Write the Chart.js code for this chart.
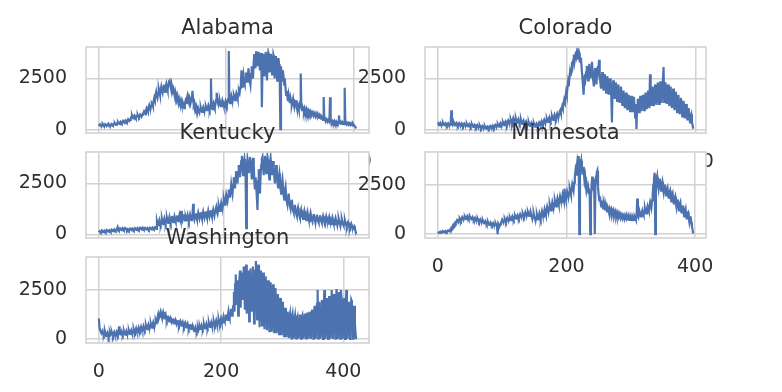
<!DOCTYPE html>
<html>
<head>
<meta charset="utf-8">
<script src="https://cdn.jsdelivr.net/npm/chart.js@4.4.1/dist/chart.umd.min.js"></script>
<style>
html,body{margin:0;padding:0;background:#ffffff;width:782px;height:392px;overflow:hidden;position:relative}
canvas{position:absolute;left:0;top:0}
</style>
</head>
<body>
<script>
// ---------- DATA ----------
const stateNames = ["Alabama", "Colorado", "Kentucky", "Minnesota", "Washington"];
const xTickValues = [0, 200, 400];
const yTickValues = [0, 2500];

const alabama = [
180,240,260,210,170,230,290,250,200,220,
270,230,180,210,260,300,240,190,210,250,
290,260,220,240,300,320,260,230,270,330,
360,300,280,340,400,370,320,360,430,390,
350,400,460,430,380,420,510,470,430,480,
560,620,690,600,550,640,700,650,580,620,
690,720,640,600,660,740,700,640,720,790,
820,900,850,760,950,1050,980,900,1100,1200,
1080,1000,1150,1300,1250,1150,1400,1550,1450,1700,
1850,1650,1550,1800,2000,1850,1700,1950,2100,1900,
1800,2050,2200,2000,1850,2100,2250,2100,1950,2200,
2350,2400,2200,2050,2250,2100,1900,2000,1800,1650,
1850,1700,1500,1650,1450,1300,1500,1350,1200,1400,
1250,1100,1300,1200,1050,1250,1400,1300,1500,1650,
1450,1350,1600,1500,1300,1450,1550,1900,1400,1250,
1350,1200,1050,1150,1000,900,1050,950,850,980,
1080,950,870,1000,1100,980,900,1020,1150,1050,
950,1080,1200,1100,1000,1150,2500,1100,1000,1200,
1300,1150,1050,1250,1450,1800,1500,1300,1200,1350,
1400,1250,1150,1300,1450,1350,1200,1100,1250,1400,
1300,1200,1350,1500,3850,1400,1300,1500,1650,1500,
1400,1550,1700,1600,1450,1650,1800,1700,1550,1750,
1900,1800,2050,2300,2900,2100,2400,2650,2300,2200,
2500,2800,2550,2350,2700,3000,2600,2400,2200,2700,
3100,2800,2500,3200,3700,3300,3000,3830,3400,3100,
3600,3800,3300,2900,3500,3750,1100,3200,3700,3400,
2600,3100,3800,3500,2400,3300,3750,3600,2800,3200,
3700,3400,2700,3100,3650,3500,2500,3000,3600,3300,
2400,2900,3500,3200,2600,30,3100,2700,2400,2900,
2600,2200,2500,2100,1700,1900,1600,1400,1700,1500,
1300,1550,1400,1200,1350,1500,1250,1100,1300,1450,
1200,1050,1250,1150,1000,1200,1100,2750,1050,950,
1100,1000,900,1050,950,850,1000,900,800,950,
880,780,900,820,720,850,780,700,820,750,
660,780,700,620,720,650,580,680,620,540,
620,560,480,1600,560,500,420,520,460,400,
480,430,380,1580,450,400,350,430,380,330,
420,360,310,400,350,300,380,700,340,290,
370,330,280,360,320,270,2050,340,300,260,
340,300,250,330,290,240,310,270,220,300,
250,200,180,120,60
];

const colorado = [
250,300,220,270,330,260,210,280,340,270,
220,290,320,250,200,270,310,240,190,260,
300,940,280,220,300,350,270,210,290,330,
260,200,280,320,250,190,270,310,240,180,
260,300,230,170,250,290,220,160,240,280,
210,150,230,270,200,140,220,250,180,120,
200,230,160,100,180,210,140,80,160,190,
120,60,140,170,100,50,130,160,110,60,
140,180,120,70,160,200,140,90,180,230,
170,120,220,270,200,150,260,320,240,180,
300,360,280,220,340,400,320,250,380,450,
360,290,420,500,400,320,460,560,440,350,
480,540,420,340,460,520,400,310,420,480,
360,280,380,440,320,240,340,400,290,210,
300,360,250,180,270,330,230,160,250,310,
220,150,240,300,220,170,280,350,270,220,
340,420,330,270,400,480,380,320,450,540,
440,380,510,600,500,430,560,660,550,480,
620,720,600,530,680,780,660,600,760,880,
950,820,1000,1150,1050,1250,1450,1350,1600,1850,
1700,2000,2300,2100,2500,2800,2600,2950,3300,3100,
3400,3650,3300,3500,3800,3600,3830,3700,3400,3750,
3600,3300,3500,3000,2600,2200,1700,2300,2700,2500,
2800,3100,2700,2400,2900,3200,2800,2500,3000,3300,
2800,2400,2100,2700,3000,2600,2200,2800,3100,2900,
3400,2700,2300,2000,2500,2800,2300,1900,2400,2700,
2200,1800,2300,2600,2100,1700,2200,2500,2000,1600,
350,2100,2400,1900,1500,2000,2300,1800,1400,1900,
2200,1700,1300,1800,2100,1600,1200,1600,1900,1400,
1050,1500,1800,1300,950,1400,1700,1250,900,1350,
1650,1200,850,1300,1600,1150,600,1250,30,1100,
1500,1200,850,1350,1650,1250,900,1400,1700,1300,
950,1450,1800,1350,1000,1500,1900,1400,1050,2700,
1600,1200,1700,2100,1500,1150,1750,2200,1600,1200,
1800,2300,1700,1250,1850,2350,1700,1300,1900,2400,
3050,1350,1900,2300,1650,1250,1800,2200,1550,1150,
1700,2100,1450,1050,1600,2000,1350,950,1450,1850,
1250,850,1350,1700,1150,750,1250,1550,1050,650,
1100,1400,900,550,1000,1250,800,450,850,1050,
650,350,650,750,400,200,50
];

const kentucky = [
100,150,130,90,120,180,160,110,140,190,
170,120,150,200,180,130,160,210,190,140,
170,220,200,150,180,240,210,170,200,280,
360,250,200,230,290,260,210,240,300,270,
220,250,310,280,230,200,260,240,190,230,
280,250,200,240,290,260,210,250,300,270,
220,260,310,280,230,270,320,290,240,280,
330,300,250,280,320,290,240,270,310,280,
230,270,320,290,250,280,330,300,260,290,
340,310,270,650,520,450,600,700,550,480,
620,750,600,500,650,780,640,540,680,800,
660,560,700,850,700,580,720,900,740,600,
750,880,720,620,780,920,760,640,800,950,
780,660,1150,820,700,850,980,800,680,830,
700,820,950,780,660,810,960,800,690,850,
1000,1500,850,720,880,1020,860,740,900,1050,
880,760,920,1080,900,780,950,1100,920,800,
970,1120,940,820,990,1150,960,840,1010,1180,
1000,880,1050,1200,1020,900,1100,1250,1350,1100,
1000,1200,1400,1250,1150,1350,1550,1400,1300,1500,
1750,1600,1450,1700,1950,1800,1650,1900,2200,2000,
1800,2100,2450,2200,2000,2400,2800,2500,2250,2700,
3100,2800,2500,3000,3400,3100,2800,3300,3600,3850,
3200,2900,3500,3700,3300,2800,300,3200,3700,3500,
3000,3400,3800,3600,3100,2700,3300,3750,3400,2600,
2200,2800,2400,1800,1200,2600,3200,2500,2000,2900,
3400,3700,3800,3300,2900,3600,3850,3500,3000,3400,
3800,3600,3100,2700,3500,3750,3400,2900,3200,3600,
3300,2800,2500,3100,3400,3000,2600,2300,2800,3000,
2600,2200,2000,2500,2700,2300,1900,1700,2100,2300,
1900,1600,1450,1800,2000,1650,1400,1250,1550,1700,
1400,1150,1050,1300,1450,1200,1000,900,1150,1300,
1100,900,800,1050,1200,1000,850,750,1000,1150,
950,800,700,950,1100,900,750,650,900,1050,
880,720,620,860,1000,830,680,600,820,960,
800,660,580,800,940,780,640,560,780,900,
760,620,540,750,880,730,600,520,740,860,
720,590,500,700,830,690,560,480,680,800,
660,540,460,650,770,630,510,440,620,740,
600,490,420,580,690,560,450,380,530,600,
480,380,320,450,520,400,310,250,360,400,
280,150,10
];

const minnesota = [
50,80,60,90,120,100,70,110,140,120,
90,130,160,140,110,150,190,170,140,200,
260,320,290,380,460,420,500,580,540,620,
700,650,600,720,800,740,680,780,860,800,
720,820,900,840,760,850,920,860,780,840,
890,820,740,800,860,780,700,760,820,740,
660,720,780,700,620,680,740,660,580,640,
700,620,540,600,660,580,500,560,620,540,
460,520,580,500,440,500,560,480,420,480,
540,460,400,0,520,450,400,480,560,620,
720,650,580,680,780,700,620,720,820,740,
660,760,860,780,700,800,900,820,740,840,
940,860,780,880,960,880,800,900,1000,920,
840,940,1050,960,880,980,1100,1000,900,1000,
1120,1020,920,1020,1150,1000,880,760,900,1050,
900,780,660,820,1000,860,740,880,1050,920,
800,960,1150,1000,880,1060,1250,1100,980,1200,
1380,1250,1100,1300,1500,1350,1200,1400,1600,1450,
1300,1500,1700,1550,1400,1600,1800,1650,1500,1700,
1900,1750,1600,1800,2000,1850,1700,2300,1900,1750,
1950,2150,2000,1850,2050,2300,2150,2000,2250,2500,
2350,2200,2600,2900,3200,3000,3400,3700,3500,3950,
0,3800,3500,3700,3300,3000,3400,3100,2700,2900,
2500,2200,2400,2100,2300,2000,2200,0,1800,2400,
2900,2600,2200,2800,0,2500,2900,3100,3200,2400,
2000,1700,1900,1600,1400,1700,1500,1300,1550,1400,
1250,1450,1300,1150,1350,1250,1100,1300,1200,1050,
1250,1150,1000,1200,1100,950,1150,1050,900,1100,
1000,870,1050,950,830,1000,920,800,960,880,
770,940,860,750,920,840,730,900,820,720,
880,800,710,880,810,720,900,830,740,920,
1800,960,860,1000,1100,980,900,1080,1200,1050,
960,1150,1300,1150,1050,1250,1400,1250,1150,1400,
1600,1450,1350,1700,2000,2500,2800,3100,0,3000,
2700,2900,2500,2300,2700,2800,2400,2200,2500,2650,
2300,2100,2400,2500,2150,1950,2250,2350,2000,1800,
2100,2200,1850,1650,1950,2050,1700,1500,1800,1900,
1550,1350,1650,1750,1400,1200,1500,1600,1250,1050,
1350,1450,1100,900,1200,1300,950,750,1050,1100,
800,600,850,900,600,400,200,30
];

const washington = [
1050,600,450,380,300,350,420,260,200,310,
380,250,150,280,340,230,120,260,330,220,
280,350,240,160,290,360,250,180,300,370,
260,200,310,650,300,240,330,400,290,220,
320,410,300,230,340,420,310,250,360,440,
330,270,380,460,350,290,400,500,380,320,
430,540,420,360,470,580,460,400,510,620,
500,440,550,660,540,470,590,700,580,510,
630,740,620,550,670,790,660,590,720,850,
720,650,800,950,850,900,1100,1250,1050,1150,
1300,1400,1200,1100,1300,1380,1150,1050,1250,1300,
1100,1000,1150,1200,1000,900,1050,1100,920,850,
980,1050,880,800,940,1000,840,760,900,960,
800,720,860,920,760,680,820,880,720,640,
780,840,680,600,740,800,640,560,700,760,
600,520,660,720,560,480,400,520,600,450,
380,500,580,450,540,640,520,600,700,580,
520,650,740,600,540,680,780,640,580,720,
820,680,620,760,860,720,660,800,900,760,
700,840,950,800,740,880,1000,850,780,920,
1050,900,850,1000,1150,980,900,1080,1250,1050,
980,1200,1400,1150,1050,1350,1550,1300,1200,1500,
1700,2400,1400,2800,3300,1800,2600,3000,1200,2200,
3100,3500,1600,2700,3400,2000,3200,3700,2500,1500,
3300,3800,1300,2400,3500,3000,900,2800,3600,2200,
1400,3200,3700,2600,800,3000,3500,3990,2400,1000,
3300,3800,2500,600,3100,3500,2200,700,2900,3400,
2400,500,2800,3200,2000,450,2600,3000,1900,400,
2500,2900,1800,380,2300,2800,1700,350,2100,2600,
1500,300,1900,2300,1300,250,1700,2100,1200,200,
1500,1900,1100,150,1300,1600,900,100,1150,1400,
950,50,1100,1300,850,30,1050,1250,800,20,
1000,1200,750,30,1050,1150,700,20,1000,1250,
800,20,1100,1200,700,20,1050,1300,900,30,
1100,1350,850,20,1150,1400,900,10,1200,1500,
1000,20,1300,1700,1100,20,1400,1800,2500,30,
1500,1900,1200,20,1600,2000,1300,10,1700,2500,
1400,20,1600,2100,1300,10,1800,2200,1500,20,
1700,2500,1400,10,1900,2300,1500,20,1800,2550,
1400,10,1700,2400,1300,20,2500,2200,1500,10,
1600,2100,1200,10,1800,2500,1400,20,1700,1900,
1100,10,1500,2000,1900,1000,20,1300,1700,800,
300,0
];

const seriesByState = {
  "Alabama": alabama, "Colorado": colorado, "Kentucky": kentucky,
  "Minnesota": minnesota, "Washington": washington
};

// ---------- LAYOUT (plot-area boxes in page pixels) ----------
const W = 782, H = 392, YAXIS_W = 80, XAXIS_H = 50, TITLE_BLOCK = 47;
const boxes = {
  "Alabama":    {left: 86,  right: 369, top: 47,  bottom: 133},
  "Colorado":   {left: 425, right: 706, top: 47,  bottom: 133},
  "Kentucky":   {left: 86,  right: 369, top: 152, bottom: 238},
  "Minnesota":  {left: 425, right: 706, top: 152, bottom: 238},
  "Washington": {left: 86,  right: 369, top: 257, bottom: 343}
};

const TEXT = '#2e2e2e';
const GRID = '#d2d2d2';
const LINE = '#4c72b0';
const FONT = "'DejaVu Sans', 'Liberation Sans', sans-serif";

const framePlugin = {
  id: 'frame',
  beforeDraw(chart) {
    const a = chart.chartArea, ctx = chart.ctx;
    ctx.save(); ctx.fillStyle = '#ffffff';
    ctx.fillRect(a.left, a.top, a.right - a.left, a.bottom - a.top);
    ctx.restore();
  },
  afterDatasetsDraw(chart) {
    const a = chart.chartArea, ctx = chart.ctx;
    ctx.save(); ctx.strokeStyle = GRID; ctx.lineWidth = 1.6;
    ctx.strokeRect(a.left, a.top, a.right - a.left, a.bottom - a.top);
    ctx.restore();
  }
};

function pad(vals) {
  let mn = Math.min(...vals), mx = Math.max(...vals);
  const m = 0.05 * (mx - mn);
  return [mn - m, mx + m];
}

stateNames.forEach((name, k) => {
  const vals = seriesByState[name];
  const b = boxes[name];
  const cv = document.createElement('canvas');
  cv.width = W; cv.height = H;
  cv.style.width = W + 'px'; cv.style.height = H + 'px';
  cv.style.zIndex = String(2 * k + 2);
  document.body.appendChild(cv);
  const n = vals.length - 1;
  const [ymin, ymax] = pad(vals);
  const chart = new Chart(cv, {
    type: 'line',
    data: {
      datasets: [{
        data: vals.map((v, i) => ({x: i, y: v})),
        borderColor: LINE, borderWidth: 2.2, pointRadius: 0,
        tension: 0, fill: false, clip: 0
      }]
    },
    options: {
      responsive: false, animation: false, events: [],
      layout: {padding: {left: b.left - YAXIS_W, right: W - b.right,
                         top: b.top - TITLE_BLOCK, bottom: H - b.bottom - XAXIS_H}},
      plugins: {
        legend: {display: false}, tooltip: {enabled: false},
        title: {display: true, text: name, fullSize: false, color: TEXT,
                font: {family: FONT, size: 21, weight: 'normal', lineHeight: 1.2},
                padding: {top: 16, bottom: 5.8}}
      },
      scales: {
        x: {
          type: 'linear', min: -0.05 * n, max: 1.05 * n,
          afterBuildTicks: s => { s.ticks = xTickValues.map(v => ({value: v})); },
          afterFit: s => { s.height = XAXIS_H; },
          grid: {color: GRID, lineWidth: 1.5, drawTicks: false},
          border: {display: false},
          ticks: {padding: 18, color: TEXT, autoSkip: false, maxRotation: 0,
                  font: {family: FONT, size: 19}, callback: v => String(v)}
        },
        y: {
          type: 'linear', min: ymin, max: ymax,
          afterBuildTicks: s => { s.ticks = yTickValues.map(v => ({value: v})); },
          afterFit: s => { s.width = YAXIS_W; },
          grid: {color: GRID, lineWidth: 1.5, drawTicks: false},
          border: {display: false},
          ticks: {padding: 19, color: TEXT, font: {family: FONT, size: 19},
                  callback: v => String(v)}
        }
      }
    },
    plugins: [framePlugin]
  });
  // white axes background under this panel, above the previous panels
  const a = chart.chartArea;
  const bg = document.createElement('div');
  bg.style.cssText = 'position:absolute;background:#ffffff;left:' + a.left + 'px;top:' + (a.top - 1) +
    'px;width:' + (a.right - a.left) + 'px;height:' + (a.bottom - a.top + 1) + 'px;z-index:' + (2 * k + 1);
  document.body.insertBefore(bg, cv);
});
</script>
</body>
</html>
